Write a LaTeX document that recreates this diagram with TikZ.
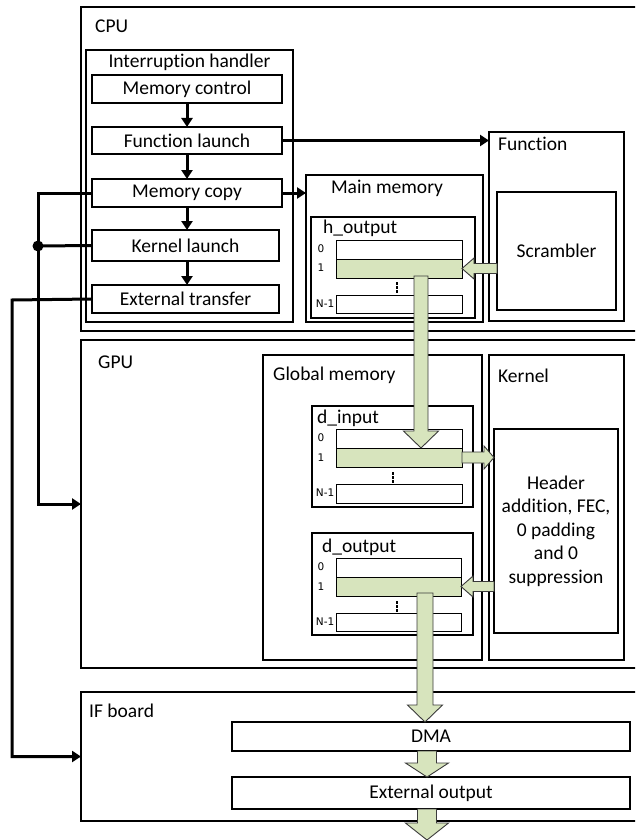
\documentclass[tikz,border=0pt]{standalone}
\usepackage{fontspec}
\setmainfont{Carlito}[Ligatures=NoCommon]
\newfontfamily\rowfont{DejaVu Sans}
\usetikzlibrary{arrows.meta,calc}
\definecolor{gfill}{HTML}{D7E4BD}
\definecolor{gline}{HTML}{3A3A3A}
% green block arrows: tip, tail, shaft half, head half, head length
\newcommand\garrowL[5]{\draw[garrow] let \p1=(#1), \p2=(#2) in
  (\x1,\y1) -- (\x1+#5,\y1+#4) -- (\x1+#5,\y1+#3) -- (\x2,\y1+#3) -- (\x2,\y1-#3)
  -- (\x1+#5,\y1-#3) -- (\x1+#5,\y1-#4) -- cycle;}
\newcommand\garrowR[5]{\draw[garrow] let \p1=(#1), \p2=(#2) in
  (\x1,\y1) -- (\x1-#5,\y1+#4) -- (\x1-#5,\y1+#3) -- (\x2,\y1+#3) -- (\x2,\y1-#3)
  -- (\x1-#5,\y1-#3) -- (\x1-#5,\y1-#4) -- cycle;}
\newcommand\garrowD[5]{\draw[garrow] let \p1=(#1), \p2=(#2) in
  (\x1,\y1) -- (\x1+#4,\y1+#5) -- (\x1+#3,\y1+#5) -- (\x1+#3,\y2) -- (\x1-#3,\y2)
  -- (\x1-#3,\y1+#5) -- (\x1-#4,\y1+#5) -- cycle;}
\newcommand\threedots[1]{\foreach \k in {0,4,8}{\fill ($(#1)+(-1.2,\k)$) rectangle ($(#1)+(1.2,\k+2.7)$);}}
\begin{document}
\begin{tikzpicture}[x=1pt,y=-1pt,
  box/.style={draw, line width=2pt, inner sep=0pt, outer sep=0pt},
  rowbox/.style={draw, line width=0.9pt, inner sep=0pt, outer sep=0pt},
  greenrow/.style={rowbox, fill=gfill},
  txt/.style={font=\fontsize{19.5}{23.5}\selectfont, align=center},
  lab/.style={font=\fontsize{19.5}{23}\selectfont, inner sep=0pt},
  rlab/.style={font=\rowfont\fontsize{10.5}{12}\selectfont, inner sep=0pt},
  conn/.style={line width=3pt, -{Triangle[length=9pt,width=11pt]}},
  garrow/.style={draw=gline, line width=0.9pt, fill=gfill, line join=miter},
]
\useasboundingbox (0,0) rectangle (635,840);
\clip (0,0) rectangle (635,840);

% ---------- CPU ----------
\node[box, minimum width=569pt, minimum height=324pt] (cpu) at (365.5,169) {};
\node[lab, anchor=base west] (cpulab) at (95,33) {CPU};
\node[box, minimum width=207pt, minimum height=272pt] (ih) at (189.5,186) {};
\node[lab, anchor=base] (ihlab) at (189.5,68) {Interruption handler};
\node[box, txt, minimum width=190pt, minimum height=28pt] (mctl) at (187,89) {Memory control};
\node[box, txt, minimum width=190pt, minimum height=27pt] (fl) at (187,140.5) {Function launch};
\node[box, txt, minimum width=190pt, minimum height=28pt] (mc) at (187,193) {Memory copy};
\node[box, txt, minimum width=187pt, minimum height=31pt] (kl) at (185.5,245.5) {Kernel launch};
\node[box, txt, minimum width=187pt, minimum height=28pt] (et) at (185.5,299) {External transfer};

\node[box, minimum width=177pt, minimum height=147pt] (mm) at (394.5,248.5) {};
\node[lab, anchor=base] (mmlab) at (387,193) {Main memory};
\node[box, minimum width=135pt, minimum height=189pt] (func) at (556.5,226.5) {};
\node[lab, anchor=base west] (funclab) at (498,150) {Function};
\node[box, txt, minimum width=119pt, minimum height=118pt] (scr) at (556.5,251) {Scrambler};

\node[box, minimum width=164pt, minimum height=101pt] (hout) at (393,267.5) {};
\node[lab, anchor=base west] (houtlab) at (323,233) {h\_output};
\node[rowbox, minimum width=126pt, minimum height=19pt] (hout0) at (399,249.5) {};
\node[greenrow, minimum width=126pt, minimum height=19pt] (hout1) at (399,268.5) {};
\node[rowbox, minimum width=126pt, minimum height=18pt] (houtn) at (399,304) {};
\node[rlab] (hl0) at (321,249) {0};
\node[rlab] (hl1) at (321,268) {1};
\node[rlab, anchor=east] (hln) at (334.5,304) {N-1};
\coordinate (hdots) at (397,282);
\threedots{hdots}

% ---------- GPU ----------
\node[box, minimum width=569pt, minimum height=328pt] (gpu) at (365.5,504) {};
\node[lab, anchor=base west] (gpulab) at (98,368) {GPU};
\node[box, minimum width=219pt, minimum height=305pt] (gm) at (372.5,507.5) {};
\node[lab, anchor=base west] (gmlab) at (273,380) {Global memory};
\node[box, minimum width=135pt, minimum height=305pt] (kern) at (556.5,507.5) {};
\node[lab, anchor=base west] (kernlab) at (498,382) {Kernel};
\node[box, txt, minimum width=124pt, minimum height=204pt] (kin) at (556,531)
  {Header\\addition, FEC,\\0 padding\\and 0\\suppression};

\node[box, minimum width=161pt, minimum height=101pt] (din) at (392.5,456.5) {};
\node[lab, anchor=base west] (dinlab) at (317,423) {d\_input};
\node[rowbox, minimum width=126pt, minimum height=19pt] (din0) at (399,438.5) {};
\node[greenrow, minimum width=126pt, minimum height=19pt] (din1) at (399,457.5) {};
\node[rowbox, minimum width=126pt, minimum height=19pt] (dinn) at (399,493.5) {};
\node[rlab] (dl0) at (321,438) {0};
\node[rlab] (dl1) at (321,458) {1};
\node[rlab, anchor=east] (dln) at (334.5,493) {N-1};
\coordinate (ddots) at (393,472);
\threedots{ddots}

\node[box, minimum width=161pt, minimum height=102pt] (dout) at (392.5,584) {};
\node[lab, anchor=base west] (doutlab) at (322,552) {d\_output};
\node[rowbox, minimum width=125pt, minimum height=19pt] (dout0) at (398.5,567.5) {};
\node[greenrow, minimum width=125pt, minimum height=19pt] (dout1) at (398.5,586.5) {};
\node[rowbox, minimum width=125pt, minimum height=18pt] (doutn) at (398.5,622) {};
\node[rlab] (ol0) at (321,567) {0};
\node[rlab] (ol1) at (321,587) {1};
\node[rlab, anchor=east] (oln) at (334.5,622) {N-1};
\coordinate (odots) at (397,601);
\threedots{odots}

% ---------- IF board ----------
\node[box, minimum width=569pt, minimum height=129pt] (ifb) at (365.5,756.5) {};
\node[lab, anchor=base west] (ifblab) at (89,717) {IF board};
\node[box, txt, minimum width=398pt, minimum height=29pt] (dma) at (431,736.5) {DMA};
\node[box, txt, minimum width=398pt, minimum height=32pt] (eo) at (431,793) {External output};

% ---------- black connectors ----------
\draw[conn] (mctl.south) -- (fl.north);
\draw[conn] (fl.south) -- (mc.north);
\draw[conn] (mc.south) -- (mc.south |- kl.north);
\draw[conn] (kl.south -| mc.south) -- (mc.south |- et.north);
\draw[conn] (fl.east) -- (fl.east -| func.west);
\draw[conn] (mc.east) -- (mc.east -| mm.west);
\coordinate (j) at (38,246);
\draw[conn] (mc.west) -| (j) |- (gpu.west);
\draw[line width=3pt] (kl.west) -- (j);
\fill (j) circle (5.5);
\coordinate (ej) at (12,300);
\draw[conn] (et.west) -- (ej) |- (ifb.west);

% ---------- green data arrows ----------
\coordinate (hcol) at (421,0);
\coordinate (ocol) at (425,0);
\coordinate (ecol) at (427,0);
\coordinate (outend) at (427,840);
\garrowL{hout1.east}{scr.west}{5pt}{10.5pt}{12pt}
\garrowD{din1.north -| hcol}{$(hout1.south -| hcol)+(0,-2)$}{7pt}{17.5pt}{17pt}
\garrowR{din1.east -| kin.west}{din1.east}{5.5pt}{11.5pt}{10pt}
\garrowL{dout1.east}{kin.west}{5pt}{10.5pt}{12pt}
\garrowD{dma.north -| ocol}{$(dout1.south -| ocol)+(0,-3)$}{8pt}{17.5pt}{17pt}
\garrowD{eo.north -| ecol}{dma.south -| ecol}{9.5pt}{21.5pt}{14pt}
\garrowD{outend}{eo.south -| ecol}{9.5pt}{21.5pt}{17pt}
\end{tikzpicture}
\end{document}
